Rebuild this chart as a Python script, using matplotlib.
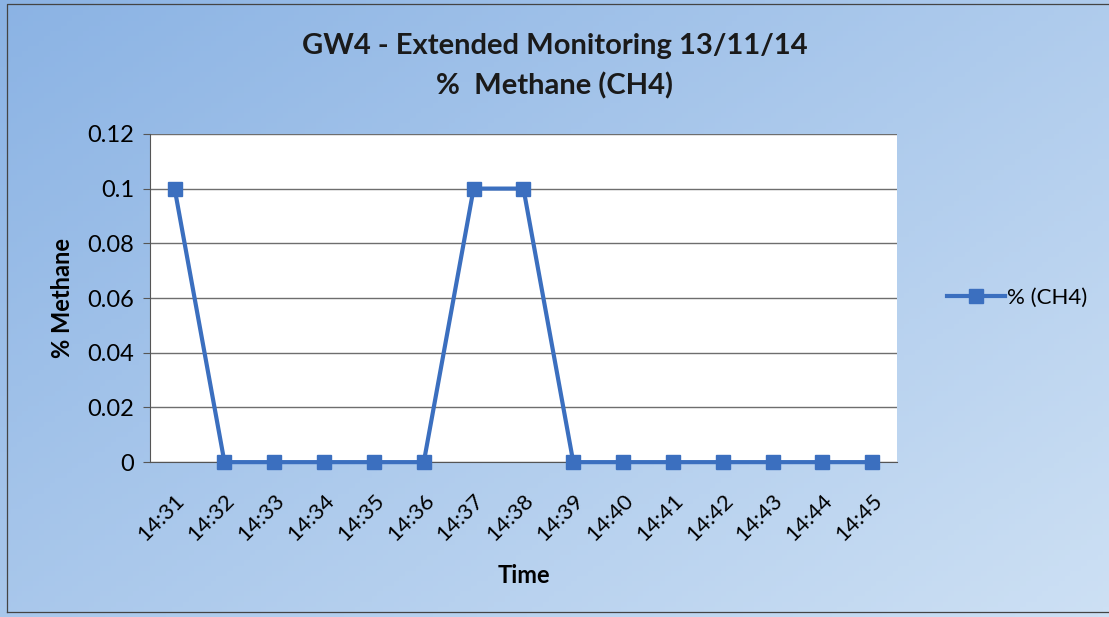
import numpy as np
import matplotlib
matplotlib.use("Agg")
import matplotlib.pyplot as plt
from matplotlib.colors import LinearSegmentedColormap

times = ["14:31", "14:32", "14:33", "14:34", "14:35", "14:36", "14:37", "14:38",
         "14:39", "14:40", "14:41", "14:42", "14:43", "14:44", "14:45"]
methane = [0.1, 0, 0, 0, 0, 0, 0.1, 0.1, 0, 0, 0, 0, 0, 0, 0]
y_ticks = [0, 0.02, 0.04, 0.06, 0.08, 0.1, 0.12]
y_labels = ["0", "0.02", "0.04", "0.06", "0.08", "0.1", "0.12"]

plt.rcParams["font.family"] = ["Lato", "DejaVu Sans"]
line_col = "#3b6fbf"

fig = plt.figure(figsize=(11.09, 6.17), dpi=100)

# gradient background over the whole figure
bg = fig.add_axes([0, 0, 1, 1], zorder=-10)
gx, gy = np.meshgrid(np.linspace(0, 1, 200), np.linspace(0, 1, 120))
grad = 0.55 * gx + 0.45 * gy
cmap = LinearSegmentedColormap.from_list("bg", ["#8bb3e4", "#cde0f4"])
bg.imshow(grad, cmap=cmap, aspect="auto", extent=[0, 1, 0, 1], origin="upper")
bg.plot([0.006, 0.006, 1.0], [0.008, 0.993, 0.993], color="#444444", lw=0.9)
bg.plot([0.006, 1.0], [0.008, 0.008], color="#444444", lw=0.9)
bg.set_xlim(0, 1)
bg.set_ylim(0, 1)
bg.axis("off")

ax = fig.add_axes([0.135, 0.251, 0.674, 0.532])
ax.set_facecolor("white")
x = np.arange(len(times))
ax.plot(x, methane, color=line_col, lw=3, marker="s", markersize=9.5,
        markerfacecolor=line_col, markeredgecolor=line_col, label="% (CH4)",
        clip_on=False, zorder=5)

ax.set_xlim(-0.5, len(times) - 0.5)
ax.set_ylim(0, 0.12)
ax.set_yticks(y_ticks)
ax.set_yticklabels(y_labels, fontsize=17)
ax.set_xticks(x)
ax.set_xticklabels(times, rotation=45, ha="right", rotation_mode="anchor", fontsize=16)
ax.tick_params(axis="x", length=0, pad=20)
ax.tick_params(axis="y", length=5, direction="out", color="#555555", pad=6)
ax.yaxis.grid(True, color="#6e6e6e", lw=1)
ax.set_axisbelow(True)
for s in ["top", "right"]:
    ax.spines[s].set_visible(False)
ax.spines["left"].set_color("#555555")
ax.spines["bottom"].set_color("#555555")

ax.set_ylabel("% Methane", fontsize=17, fontweight="bold", labelpad=10)
ax.set_xlabel("Time", fontsize=17, fontweight="bold", labelpad=14)

fig.text(0.5, 0.925, "GW4 - Extended Monitoring 13/11/14", ha="center", va="center",
         fontsize=21, fontweight="bold", color="#1a1a1a")
fig.text(0.5, 0.86, "%  Methane (CH4)", ha="center", va="center",
         fontsize=21, fontweight="bold", color="#1a1a1a")

ax.legend(loc="center left", bbox_to_anchor=(1.04, 0.5), frameon=False,
          fontsize=16, handlelength=2.6, handletextpad=0.1)

fig.savefig("out.png", dpi=100)
